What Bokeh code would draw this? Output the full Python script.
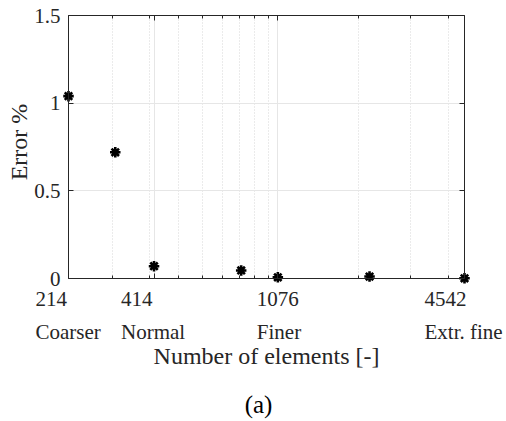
import math
from bokeh.plotting import figure
from bokeh.models import Range1d, FixedTicker, LogAxis, LinearAxis, ColumnDataSource
from bokeh.core.properties import value
from bokeh.embed import file_html
from bokeh.resources import INLINE

# ---- data ----
n_elements = [214, 307, 414, 811, 1076, 2183, 4542]
error_pct = [1.04, 0.72, 0.07, 0.046, 0.007, 0.011, 0.001]

tick_values = [214, 414, 1076, 4542]
tick_numbers = ["214", "414", "1076", "4542"]
tick_names = ["Coarser", "Normal", "Finer", "Extr. fine"]
minor_values = [300, 400, 500, 600, 700, 800, 900, 1000, 2000, 3000, 4000]
y_ticks = [0, 0.5, 1, 1.5]
y_tick_labels = ["0", "0.5", "1", "1.5"]
x_min, x_max = 214, 4542
y_min, y_max = 0, 1.5

# ---- style / layout (pixels) ----
FONT = "Liberation Serif"
AX = "#262626"
GRID = "#e6e6e6"
label_shift = [-33, -33, -21, -40]   # left-aligned two-line blocks, centred on tick
W, H, M = 506, 421, 3                # canvas, outer margin
BOX_L, BOX_R, BOX_T, BOX_B = 68, 464, 15, 278   # axes box on the page

ppd = (BOX_R - BOX_L) / (math.log10(x_max) - math.log10(x_min))
xs = 10 ** (math.log10(x_min) - (BOX_L - M) / ppd)
xe = 10 ** (math.log10(x_max) + (W - M - BOX_R) / ppd)
ppy = (BOX_B - BOX_T) / (y_max - y_min)
ys = y_min - (H - M - BOX_B) / ppy
ye = y_max + (BOX_T - M) / ppy

p = figure(frame_width=W - 2 * M, frame_height=H - 2 * M, x_axis_type="log",
           x_range=Range1d(xs, xe), y_range=Range1d(ys, ye),
           output_backend="svg", toolbar_location=None,
           min_border_left=M, min_border_right=M, min_border_top=M, min_border_bottom=M)
p.outline_line_color = None

xt = FixedTicker(ticks=tick_values, minor_ticks=minor_values)
yt = FixedTicker(ticks=y_ticks)

xa = p.xaxis[0]
xa.ticker = xt
xa.fixed_location = y_min
xa.bounds = (x_min, x_max)
ya = p.yaxis[0]
ya.ticker = yt
ya.fixed_location = x_min
ya.bounds = (y_min, y_max)
top = LogAxis(ticker=xt, bounds=(x_min, x_max), fixed_location=y_max)
right = LinearAxis(ticker=yt, bounds=(y_min, y_max), fixed_location=x_max)
p.add_layout(top, "above")
p.add_layout(right, "right")

for ax in [xa, ya, top, right]:
    ax.major_label_text_font_size = "0px"
    ax.major_label_text_color = None
    ax.major_label_standoff = 0
    ax.axis_line_color = AX
    ax.axis_line_width = 1
    ax.major_tick_line_color = AX
    ax.major_tick_in = 5
    ax.major_tick_out = 0
    ax.minor_tick_in = 3
    ax.minor_tick_out = 0
for ax in [ya, right]:
    ax.minor_tick_line_color = None
for ax in [xa, top]:
    ax.minor_tick_line_color = AX

# grids limited to the axes box
p.xgrid.ticker = xt
p.xgrid.bounds = (x_min, x_max)
p.xgrid.cross_bounds = (y_min, y_max)
p.xgrid.grid_line_color = GRID
p.xgrid.minor_grid_line_color = "#d6d6d6"
p.xgrid.minor_grid_line_dash = "1 2"
p.ygrid.ticker = yt
p.ygrid.bounds = (y_min, y_max)
p.ygrid.cross_bounds = (x_min, x_max)
p.ygrid.grid_line_color = GRID

# data markers
p.scatter(n_elements, error_pct, marker="asterisk", size=10.5,
          line_color="black", line_width=2.6)

# y tick labels and y axis title
p.text(x=[x_min] * len(y_ticks), y=y_ticks, text=y_tick_labels, x_offset=-8,
       text_align="right", text_baseline="middle", text_font=value(FONT),
       text_font_size="21px", text_color=AX)
y_mid = (y_min + y_max) / 2
p.text(x=[x_min], y=[y_mid], text=["Error %"], angle=math.pi / 2, x_offset=-50, y_offset=-5,
       text_align="center", text_baseline="alphabetic", text_font=value(FONT),
       text_font_size="24px", text_color=AX)

# two-line x tick labels
src = ColumnDataSource(dict(x=tick_values, y=[y_min] * len(tick_values),
                            num=tick_numbers, name=tick_names, dx=label_shift))
p.text(x="x", y="y", text="num", source=src, x_offset="dx", y_offset=20,
       text_align="left", text_baseline="alphabetic", text_font=value(FONT),
       text_font_size="21px", text_color=AX)
p.text(x="x", y="y", text="name", source=src, x_offset="dx", y_offset=53,
       text_align="left", text_baseline="alphabetic", text_font=value(FONT),
       text_font_size="21px", text_color=AX)

# x axis title and caption
x_mid = 10 ** ((math.log10(x_min) + math.log10(x_max)) / 2)
p.text(x=[x_mid], y=[y_min], text=["Number of elements [-]"], y_offset=77,
       text_align="center", text_baseline="alphabetic", text_font=value(FONT),
       text_font_size="24px", text_color=AX)
p.text(x=[x_mid], y=[y_min], text=["(a)"], x_offset=-8, y_offset=126,
       text_align="center", text_baseline="alphabetic", text_font=value(FONT),
       text_font_size="25px", text_color="black")

open("out.html", "w").write(file_html(p, INLINE))
